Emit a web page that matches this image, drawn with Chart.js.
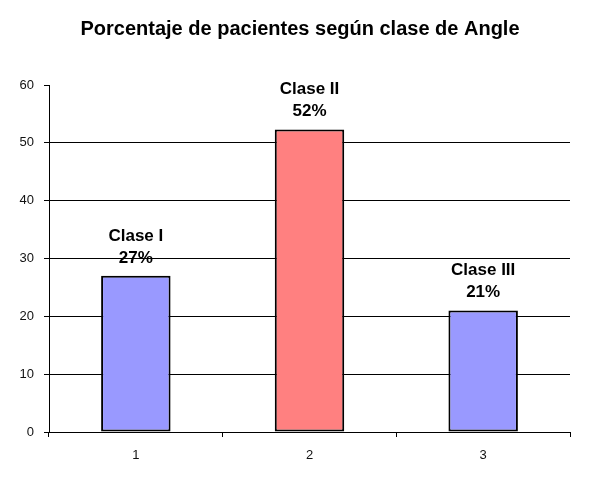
<!DOCTYPE html>
<html><head><meta charset="utf-8">
<script src="https://cdn.jsdelivr.net/npm/chart.js@4"></script>
<style>html,body{margin:0;padding:0;background:#fff}#wrap{width:590px;height:484px}</style>
</head><body><div id="wrap"><canvas id="c" width="590" height="484"></canvas></div>
<script>
const categories = ["1", "2", "3"];
const values = [27, 52.3, 21];
const classNames = ["Clase I", "Clase II", "Clase III"];
const percentLabels = ["27%", "52%", "21%"];
const barColors = ["#9999FF", "#FF8080", "#9999FF"];
const titleText = "Porcentaje de pacientes según clase de Angle";

const FONT = "'Liberation Sans', Arial, sans-serif";

const titlePlugin = {
  id: 'customTitle',
  afterDraw(chart) {
    const ctx = chart.ctx;
    ctx.save();
    ctx.font = "bold 20px " + FONT;
    ctx.fillStyle = "#000";
    ctx.textAlign = "center";
    ctx.textBaseline = "middle";
    ctx.fillText(titleText, 300, 29);
    ctx.restore();
  }
};

const labelPlugin = {
  id: 'barLabels',
  afterDatasetsDraw(chart) {
    const ctx = chart.ctx;
    const meta = chart.getDatasetMeta(0);
    ctx.save();
    ctx.font = "bold 17px " + FONT;
    ctx.fillStyle = "#000";
    ctx.textAlign = "center";
    ctx.textBaseline = "middle";
    meta.data.forEach((el, i) => {
      ctx.fillText(percentLabels[i], el.x, el.y - 18);
      ctx.fillText(classNames[i], el.x, el.y - 40);
    });
    ctx.restore();
  }
};

new Chart(document.getElementById('c'), {
  type: 'bar',
  data: {
    labels: categories,
    datasets: [{
      data: values,
      backgroundColor: barColors,
      borderColor: "#000",
      borderWidth: 2,
      borderSkipped: false,
      categoryPercentage: 0.4,
      barPercentage: 1.0
    }]
  },
  options: {
    responsive: false,
    animation: false,
    devicePixelRatio: 1,
    layout: { padding: { top: 85, right: 20, left: 0, bottom: 0 } },
    plugins: { legend: { display: false }, tooltip: { enabled: false }, title: { display: false } },
    scales: {
      x: {
        grid: { drawOnChartArea: false, drawTicks: true, tickLength: 5, color: "#000", offset: true },
        border: { color: "#000", width: 1 },
        ticks: { color: "#111", font: { family: FONT, size: 13 }, padding: 11 },
        afterFit(s) { s.height = 52; }
      },
      y: {
        min: 0, max: 60,
        ticks: { stepSize: 10, color: "#111", font: { family: FONT, size: 13 }, padding: 10 },
        grid: {
          color: (c) => (c.tick && c.tick.value === 60) ? "rgba(0,0,0,0)" : "#000",
          tickColor: "#000",
          tickLength: 5,
          drawTicks: true
        },
        border: { color: "#000", width: 1 },
        afterFit(s) { s.width = 49; }
      }
    }
  },
  plugins: [titlePlugin, labelPlugin]
});
</script></body></html>
